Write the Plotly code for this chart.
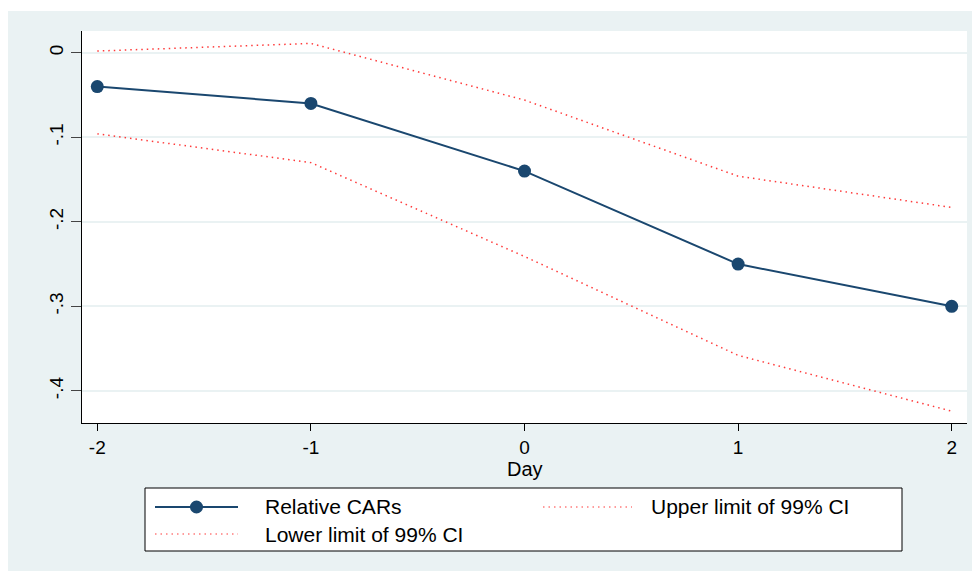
import plotly.graph_objects as go

# ---- data ----
days = [-2, -1, 0, 1, 2]
relative_cars = [-0.040, -0.060, -0.140, -0.250, -0.300]
upper_ci = [0.002, 0.011, -0.056, -0.146, -0.183]
lower_ci = [-0.096, -0.130, -0.241, -0.358, -0.424]
y_tickvals = [0, -0.1, -0.2, -0.3, -0.4]
y_ticktext = ["0", "-.1", "-.2", "-.3", "-.4"]
x_tickvals = [-2, -1, 0, 1, 2]
x_ticktext = ["-2", "-1", "0", "1", "2"]
legend_labels = ["Relative CARs", "Upper limit of 99% CI", "Lower limit of 99% CI"]
x_title = "Day"

NAVY = "#1a476f"
RED = "#ff3a3a"
BG = "#eaf2f3"
FONT = "Liberation Sans, Arial, sans-serif"
DOTS = "1.5px,4px"

# page puts the figure at an 8px offset; coordinates below are screen pixels
OFF = 8
W, H = 972, 563
L, R, T, B = 82 - OFF, 13, 31 - OFF, 571 - 423
PW, PH = W - L - R, H - T - B


def px(x):
    return (x - OFF - L) / PW


def py(y):
    return 1 - (y - OFF - T) / PH


fig = go.Figure()
fig.add_trace(go.Scatter(x=days, y=upper_ci, mode="lines", name=legend_labels[1],
                         line=dict(color=RED, width=1.5, dash=DOTS), showlegend=False))
fig.add_trace(go.Scatter(x=days, y=lower_ci, mode="lines", name=legend_labels[2],
                         line=dict(color=RED, width=1.5, dash=DOTS), showlegend=False))
fig.add_trace(go.Scatter(x=days, y=relative_cars, mode="lines+markers", name=legend_labels[0],
                         line=dict(color=NAVY, width=2),
                         marker=dict(color=NAVY, size=13), showlegend=False))

shapes = []
# thin white strip at the very top
shapes.append(dict(type="rect", xref="paper", yref="paper", x0=px(0), x1=px(990), y0=py(11), y1=py(0),
                   fillcolor="white", line=dict(width=0), layer="above"))
# legend box
shapes.append(dict(type="rect", xref="paper", yref="paper", x0=px(145), x1=px(902), y0=py(551), y1=py(488),
                   fillcolor="white", line=dict(color="black", width=1), layer="above"))
# legend symbols
r1, r2 = 507, 534
shapes.append(dict(type="line", xref="paper", yref="paper", x0=px(155), x1=px(238), y0=py(r1), y1=py(r1),
                   line=dict(color=NAVY, width=2), layer="above"))
shapes.append(dict(type="circle", xref="paper", yref="paper", x0=px(190), x1=px(203), y0=py(r1 + 6.5), y1=py(r1 - 6.5),
                   fillcolor=NAVY, line=dict(color=NAVY, width=0), layer="above"))
shapes.append(dict(type="line", xref="paper", yref="paper", x0=px(543), x1=px(632), y0=py(r1), y1=py(r1),
                   line=dict(color=RED, width=1.2, dash=DOTS), layer="above"))
shapes.append(dict(type="line", xref="paper", yref="paper", x0=px(155), x1=px(238), y0=py(r2), y1=py(r2),
                   line=dict(color=RED, width=1.2, dash=DOTS), layer="above"))

LFS = 21
annotations = [
    dict(text=legend_labels[0], x=px(263), y=py(r1), xref="paper", yref="paper", xanchor="left",
         yanchor="middle", showarrow=False, font=dict(size=LFS, color="black", family=FONT)),
    dict(text=legend_labels[1], x=px(649), y=py(r1), xref="paper", yref="paper", xanchor="left",
         yanchor="middle", showarrow=False, font=dict(size=LFS, color="black", family=FONT)),
    dict(text=legend_labels[2], x=px(263), y=py(r2), xref="paper", yref="paper", xanchor="left",
         yanchor="middle", showarrow=False, font=dict(size=LFS, color="black", family=FONT)),
    # x-axis title
    dict(text=x_title, x=0.5, y=py(469), xref="paper", yref="paper", xanchor="center",
         yanchor="middle", showarrow=False, font=dict(size=20, color="black", family=FONT)),
]

fig.update_layout(
    width=W, height=H,
    margin=dict(l=L, r=R, t=T, b=B, pad=0),
    paper_bgcolor=BG, plot_bgcolor="white",
    font=dict(family=FONT, size=18, color="black"),
    shapes=shapes, annotations=annotations,
    showlegend=False,
)
fig.update_xaxes(
    range=[-2.0716, 2.0716], tickvals=x_tickvals, ticktext=x_ticktext,
    showgrid=False, zeroline=False, showline=True, linecolor="black", linewidth=1,
    ticks="outside", ticklen=7, tickcolor="black",
    tickfont=dict(size=19, family=FONT),
)
fig.update_yaxes(
    range=[-0.438, 0.0257], tickvals=y_tickvals, ticktext=y_ticktext,
    showgrid=True, gridcolor=BG, gridwidth=1.5, zeroline=False,
    showline=True, linecolor="black", linewidth=1,
    ticks="outside", ticklen=10, tickcolor="#444", tickangle=-90,
    tickfont=dict(size=19, family=FONT),
)

fig.write_html("out.html")
